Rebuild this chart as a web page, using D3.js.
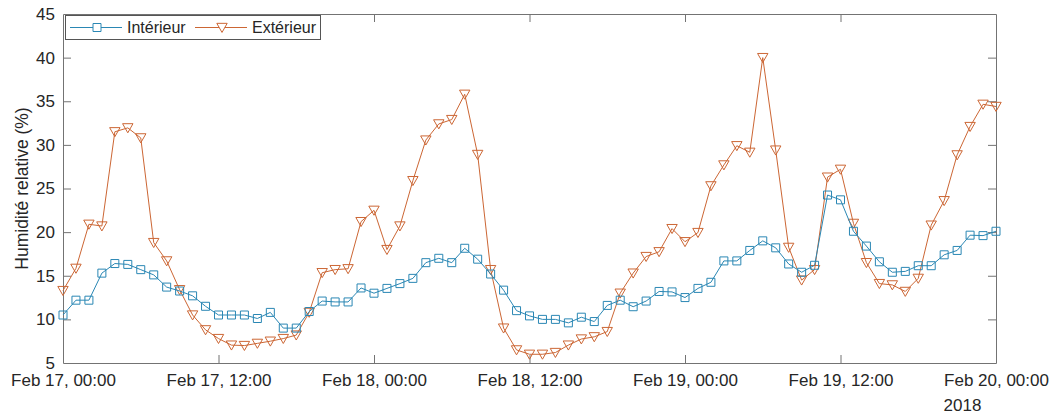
<!DOCTYPE html>
<html>
<head>
<meta charset="utf-8">
<script src="https://cdn.jsdelivr.net/npm/d3@7"></script>
<style>
  body { margin: 0; background: #fff; }
  svg { font-family: "Liberation Sans", Arial, sans-serif; }
</style>
</head>
<body>
<div id="chart"></div>
<script>
// hourly readings, Feb 17 00:00 -> Feb 20 00:00, 2018
const startTime = new Date(2018, 1, 17, 0, 0);
const interieur = [
  10.5, 12.2, 12.2, 15.3, 16.4, 16.3, 15.7, 15.1, 13.7, 13.25, 12.7, 11.5,
  10.5, 10.5, 10.5, 10.1, 10.8, 9.0, 9.0, 10.9, 12.1, 12.0, 12.0, 13.6,
  13.0, 13.55, 14.1, 14.7, 16.5, 17.0, 16.5, 18.15, 16.9, 15.2, 13.35, 11.0,
  10.4, 10.0, 10.0, 9.6, 10.25, 9.75, 11.6, 12.2, 11.45, 12.1, 13.2, 13.15,
  12.5, 13.55, 14.25, 16.7, 16.7, 17.9, 19.0, 18.2, 16.35, 15.4, 16.2, 24.25,
  23.7, 20.1, 18.4, 16.6, 15.4, 15.5, 16.15, 16.15, 17.4, 17.9, 19.65, 19.6,
  20.1
];
const exterieur = [
  13.3, 15.85, 20.9, 20.7, 31.5, 31.95, 30.8, 18.8, 16.7, 13.4, 10.5, 8.8,
  7.8, 7.05, 7.0, 7.25, 7.5, 7.8, 8.2, 10.8, 15.35, 15.7, 15.8, 21.2,
  22.5, 18.0, 20.7, 25.9, 30.55, 32.4, 32.9, 35.8, 28.9, 15.7, 9.0, 6.5,
  6.0, 6.0, 6.2, 7.05, 7.75, 8.0, 8.6, 13.0, 15.3, 17.2, 17.75, 20.4,
  18.9, 19.95, 25.3, 27.7, 29.9, 29.15, 40.0, 29.4, 18.25, 14.5, 15.7, 26.3,
  27.2, 21.0, 16.5, 14.1, 13.95, 13.2, 14.7, 20.8, 23.6, 28.85, 32.1, 34.65,
  34.4
];
const seriesNames = ["Intérieur", "Extérieur"];
const yTicks = [5, 10, 15, 20, 25, 30, 35, 40, 45];
const xTickHours = [0, 12, 24, 36, 48, 60, 72];
const yearLabel = "2018";

const W = 1056, H = 414;
const margin = { top: 14, right: 60, bottom: 51, left: 63 };
const colors = ["#2a87b4", "#cc6634"];
const axisColor = "#737373";
const textColor = "#262626";

const times = interieur.map((_, i) => d3.timeHour.offset(startTime, i));

const svg = d3.select("#chart").append("svg")
  .attr("width", W).attr("height", H);

const x = d3.scaleTime()
  .domain([startTime, d3.timeHour.offset(startTime, 72)])
  .range([margin.left, W - margin.right]);
const y = d3.scaleLinear()
  .domain([5, 45])
  .range([H - margin.bottom, margin.top]);

const xTicks = xTickHours.map((h) => d3.timeHour.offset(startTime, h));
const fmt = d3.timeFormat("%b %d, %H:%M");

// axes (box with inward ticks on all four sides)
const tickLen = 8;
const axes = [
  d3.axisBottom(x).tickValues(xTicks).tickFormat(fmt),
  d3.axisTop(x).tickValues(xTicks).tickFormat(""),
  d3.axisLeft(y).tickValues(yTicks),
  d3.axisRight(y).tickValues(yTicks).tickFormat(""),
];
const offsets = [
  `translate(0,${H - margin.bottom})`,
  `translate(0,${margin.top})`,
  `translate(${margin.left},0)`,
  `translate(${W - margin.right},0)`,
];
let lastLabel = null;
axes.forEach((ax, i) => {
  const g = svg.append("g")
    .attr("transform", offsets[i])
    .call(ax.tickSizeInner(-tickLen).tickSizeOuter(0).tickPadding(tickLen + 8));
  g.select(".domain").attr("stroke", axisColor).attr("stroke-width", 1);
  g.selectAll(".tick line").attr("stroke", axisColor);
  g.selectAll(".tick text")
    .attr("fill", textColor)
    .style("font-size", "17px")
    .style("font-family", "'Liberation Sans', Arial, sans-serif");
  if (i === 0) {
    g.selectAll(".tick text").attr("y", 11).attr("dy", "0.71em");
    g.selectAll(".tick line").filter((d, j) => j === 0 || j === xTicks.length - 1).remove();
    lastLabel = g.selectAll(".tick text").nodes().pop();
  }
  if (i === 1) {
    g.selectAll(".tick line").filter((d, j) => j === 0 || j === xTicks.length - 1).remove();
  }
  if (i === 2) {
    g.selectAll(".tick text").attr("x", -8);
    g.selectAll(".tick line").filter((d) => d === 5 || d === 45).remove();
  }
  if (i === 3) {
    g.selectAll(".tick line").filter((d) => d === 5 || d === 45).remove();
  }
});

// year sits under the last tick label, left-aligned with it
const lastW = lastLabel.getComputedTextLength();
svg.append("text")
  .attr("x", x(xTicks[xTicks.length - 1]) - lastW / 2)
  .attr("y", H - 3)
  .attr("text-anchor", "start")
  .attr("fill", textColor)
  .style("font-size", "17px")
  .text(yearLabel);

svg.append("text")
  .attr("transform", `translate(22,${(margin.top + H - margin.bottom) / 2}) rotate(-90)`)
  .attr("text-anchor", "middle")
  .attr("dy", "0.35em")
  .attr("fill", textColor)
  .style("font-size", "17.5px")
  .text("Humidité relative (%)");

// markers
const squarePath = (s) => `M${-s},${-s}H${s}V${s}H${-s}Z`;
const trianglePath = (s) => `M${-s},${-s * 0.8}H${s}L0,${s * 0.95}Z`;
const markerPaths = [squarePath(4), trianglePath(5.2)];

const line = d3.line().x((d) => x(d[0])).y((d) => y(d[1]));
const series = [interieur, exterieur];

// draw exterior first so interior sits on top where they cross
[1, 0].forEach((k) => {
  const pts = times.map((t, i) => [t, series[k][i]]);
  const g = svg.append("g");
  g.append("path")
    .attr("d", line(pts))
    .attr("fill", "none")
    .attr("stroke", colors[k])
    .attr("stroke-width", 1);
  g.selectAll("path.mk")
    .data(pts)
    .join("path")
    .attr("class", "mk")
    .attr("transform", (d) => `translate(${x(d[0])},${y(d[1])})`)
    .attr("d", markerPaths[k])
    .attr("fill", "none")
    .attr("stroke", colors[k])
    .attr("stroke-width", 1);
});

// legend
const lg = svg.append("g").attr("transform", "translate(65,15)");
lg.append("rect")
  .attr("x", 0.5).attr("y", 0.5)
  .attr("width", 255).attr("height", 24)
  .attr("fill", "#fff")
  .attr("stroke", "#555")
  .attr("stroke-width", 1);
const entryX = [5, 130];
seriesNames.forEach((name, k) => {
  const e = lg.append("g").attr("transform", `translate(${entryX[k]},12.5)`);
  e.append("line")
    .attr("x1", 0).attr("x2", 52)
    .attr("stroke", colors[k]).attr("stroke-width", 1);
  e.append("path")
    .attr("transform", "translate(27,0)")
    .attr("d", markerPaths[k])
    .attr("fill", "#fff")
    .attr("stroke", colors[k]);
  e.append("text")
    .attr("x", 57)
    .attr("dy", "0.36em")
    .attr("fill", textColor)
    .style("font-size", "16px")
    .text(name);
});
</script>
</body>
</html>
